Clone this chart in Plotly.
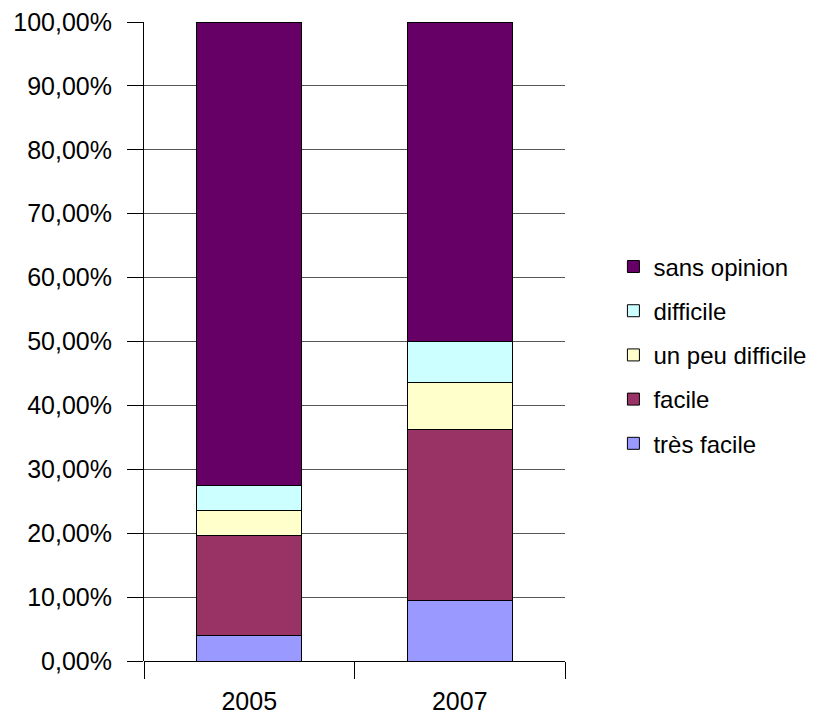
import plotly.graph_objects as go

years = ["2005", "2007"]
series_names = ["très facile", "facile", "un peu difficile", "difficile", "sans opinion"]
tres_facile = [4.0, 9.5]
facile = [15.6, 26.8]
un_peu_difficile = [4.0, 7.3]
difficile = [3.9, 6.4]
sans_opinion = [72.5, 50.0]
colors = ["#9999FF", "#993366", "#FFFFCC", "#CCFFFF", "#660066"]
y_ticks = [0, 10, 20, 30, 40, 50, 60, 70, 80, 90, 100]
y_tick_labels = ["0,00%", "10,00%", "20,00%", "30,00%", "40,00%", "50,00%",
                 "60,00%", "70,00%", "80,00%", "90,00%", "100,00%"]

values = [tres_facile, facile, un_peu_difficile, difficile, sans_opinion]

fig = go.Figure()
for i, (name, vals, col) in enumerate(zip(series_names, values, colors)):
    fig.add_trace(go.Bar(
        x=years, y=vals, name=name, legendgroup=name,
        legendrank=len(series_names) - i,
        marker=dict(color=col, line=dict(color="#000000", width=1)),
        width=0.5,
    ))

font = "Liberation Sans, Arial, sans-serif"
fig.update_layout(
    barmode="stack",
    width=817, height=714,
    margin=dict(l=136, r=260, t=14, b=61, autoexpand=False),
    paper_bgcolor="white", plot_bgcolor="white",
    font=dict(family=font, size=25, color="#000000"),
    showlegend=True,
    legend=dict(
        x=1.115, xanchor="left", y=0.479, yanchor="middle",
        traceorder="grouped", tracegroupgap=10,
        font=dict(family=font, size=24, color="#000000"),
        bgcolor="rgba(0,0,0,0)",
    ),
    xaxis=dict(
        type="category", tickson="boundaries", ticks="outside", ticklen=17,
        tickcolor="#000000", showline=False, showgrid=False, automargin=False,
        tickfont=dict(family=font, size=25), ticklabelstandoff=23,
        ticklabeloverflow="allow",
    ),
    yaxis=dict(
        range=[0, 100], tickvals=y_ticks, ticktext=y_tick_labels,
        ticks="outside", ticklen=16, tickcolor="#000000", automargin=False,
        showline=True, linecolor="#000000", linewidth=1,
        showgrid=True, gridcolor="#555555", gridwidth=1,
        zeroline=True, zerolinecolor="#000000", zerolinewidth=1,
        tickfont=dict(family=font, size=25), ticklabelstandoff=10,
        ticklabeloverflow="allow",
    ),
)
fig.write_html("out.html")
